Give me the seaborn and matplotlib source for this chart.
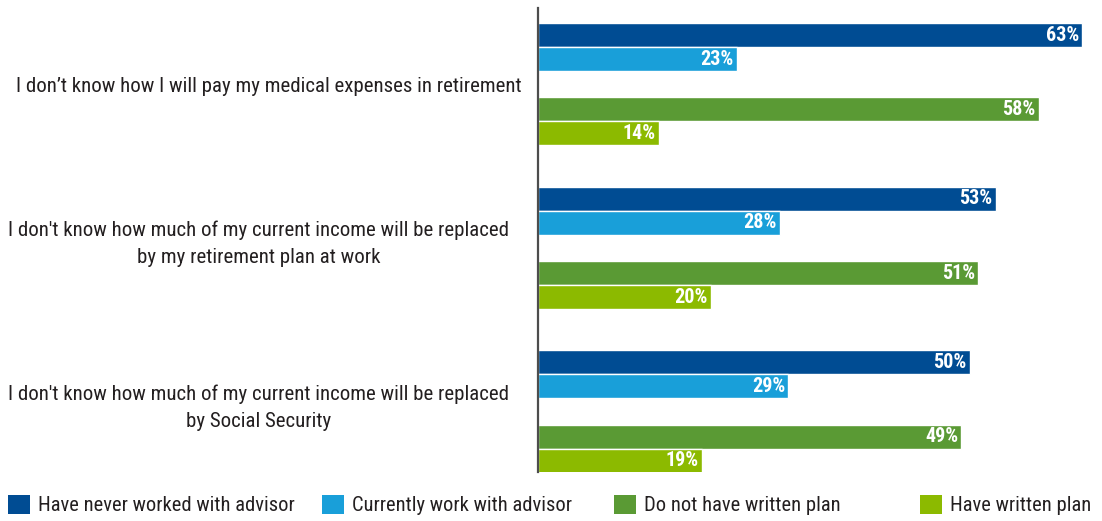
import matplotlib
matplotlib.use("Agg")
import matplotlib.pyplot as plt
import matplotlib.transforms as mtransforms
from matplotlib.patches import Patch
import pandas as pd
import seaborn as sns

# ---- data -------------------------------------------------------------
statements = [
    "I don\u2019t know how I will pay my medical expenses in retirement",
    "I don't know how much of my current income will be replaced\nby my retirement plan at work",
    "I don't know how much of my current income will be replaced\nby Social Security",
]
series = [
    "Have never worked with advisor",
    "Currently work with advisor",
    "Do not have written plan",
    "Have written plan",
]
never_advisor = [63, 53, 50]
current_advisor = [23, 28, 29]
no_written_plan = [58, 51, 49]
written_plan = [14, 20, 19]
colors = ["#004C93", "#199FD9", "#5A9A34", "#8CBA00"]

# ---- layout (in bar-height units) ------------------------------------
first_center = 1.125
slot_offsets = [0.0, 1.0, 3.104, 4.104]
group_pitch = 6.8125
y_extent = 19.333

values = [never_advisor, current_advisor, no_written_plan, written_plan]
rows = []
for g, stmt in enumerate(statements):
    for s, name in enumerate(series):
        rows.append({
            "statement": stmt,
            "series": name,
            "value": values[s][g],
            "pos": first_center + g * group_pitch + slot_offsets[s],
        })
df = pd.DataFrame(rows)

sns.set_style("white")
plt.rcParams["font.family"] = ["Roboto Condensed", "DejaVu Sans"]
text_color = "#231F20"

fig = plt.figure(figsize=(11.02, 5.21), dpi=100)
W, H = 1102, 521
ax = fig.add_axes([538 / W, 1 - 472 / H, 552.6 / W, 464 / H])

sns.barplot(
    data=df, x="value", y="pos", hue="series", hue_order=series,
    palette=dict(zip(series, colors)), orient="h", native_scale=True,
    dodge=False, width=1.0, saturation=1, legend=False, ax=ax,
)

ax.set_xlim(0, 64)
ax.set_ylim(y_extent, 0)

# value labels inside the bar ends
for _, r in df.iterrows():
    ax.annotate(
        f"{r['value']}%", xy=(r["value"], r["pos"]), xytext=(-2.2, 0),
        textcoords="offset points", ha="right", va="center",
        color="white", fontsize=14.5, fontweight="bold",
    )

# statement labels centred on each group of four bars
centers = [first_center + g * group_pitch + (slot_offsets[0] + slot_offsets[-1]) / 2
           for g in range(len(statements))]
ax.set_yticks(centers)
ax.set_yticklabels(statements, fontsize=15.0, color=text_color,
                   multialignment="center", linespacing=1.55)
ax.tick_params(axis="y", length=0, pad=11.5)
for lab in ax.get_yticklabels()[1:]:
    lab.set_transform(lab.get_transform() +
                      mtransforms.ScaledTranslation(-13 / 100, 10 / 100, fig.dpi_scale_trans))

ax.set_xticks([])
ax.set_xlabel("")
ax.set_ylabel("")
for side in ["top", "right", "bottom"]:
    ax.spines[side].set_visible(False)
ax.spines["left"].set_color("#4D4D4D")
ax.spines["left"].set_linewidth(1.6)

# legend: one swatch + label per series along the bottom
legend_x = [8, 322, 614, 920]
fs = 14.8
fs_px = fs * 100 / 72
for name, col, x in zip(series, colors, legend_x):
    leg = fig.legend(
        handles=[Patch(facecolor=col, edgecolor="none")], labels=[name],
        loc="center left", bbox_to_anchor=(x / W, 1 - 505 / H),
        frameon=False, borderpad=0, borderaxespad=0,
        handlelength=22 / fs_px, handleheight=22 / fs_px,
        handletextpad=8 / fs_px, fontsize=fs,
    )
    for t in leg.get_texts():
        t.set_color(text_color)

fig.savefig("out.png", dpi=100, facecolor="white")
